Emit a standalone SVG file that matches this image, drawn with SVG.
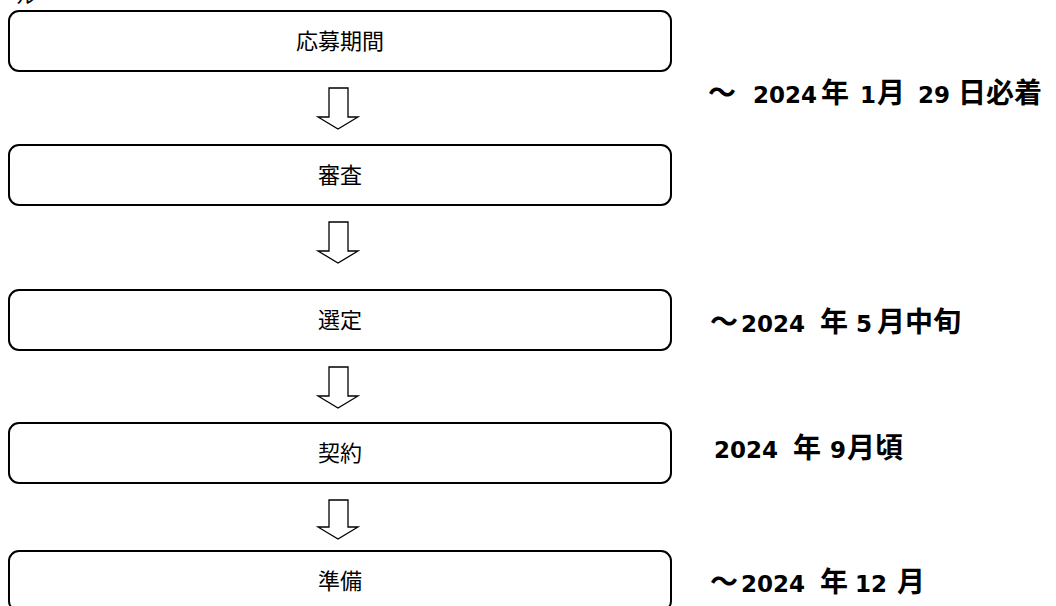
<svg xmlns="http://www.w3.org/2000/svg" width="1056" height="606" viewBox="0 0 1056 606">
<style>
.box{fill:#fff;stroke:#000;stroke-width:2}
.lbl{font-family:"Noto Sans CJK JP","Noto Sans",sans-serif;font-size:22px;fill:#000;text-anchor:middle}
.date{font-family:"Noto Sans CJK JP","Noto Sans",sans-serif;font-size:28px;font-weight:bold;fill:#000}
.num{font-family:"DejaVu Sans","Noto Sans CJK JP",sans-serif;font-size:23px}
.arr{fill:#fff;stroke:#000;stroke-width:1.3;stroke-linejoin:miter}
</style>
<rect width="1056" height="606" fill="#fff"/>
<text x="16" y="4" style="font-family:'Noto Sans CJK JP',sans-serif;font-size:20px">ル</text>
<g id="connectors">
<path class="arr" d="M329,88 H348 V117 H358 L338,129 L318,117 H329 Z"/>
<path class="arr" d="M329,222 H348 V251 H358 L338,263 L318,251 H329 Z"/>
<path class="arr" d="M329,367 H348 V396 H358 L338,408 L318,396 H329 Z"/>
<path class="arr" d="M329,500 H348 V527 H358 L338,539 L318,527 H329 Z"/>
</g>
<g id="n1"><rect class="box" x="9" y="11" width="662" height="60" rx="10"/><text class="lbl" x="340" y="49">応募期間</text></g>
<g id="n2"><rect class="box" x="9" y="145" width="662" height="60" rx="10"/><text class="lbl" x="340" y="183">審査</text></g>
<g id="n3"><rect class="box" x="9" y="290" width="662" height="60" rx="10"/><text class="lbl" x="340" y="328">選定</text></g>
<g id="n4"><rect class="box" x="9" y="423" width="662" height="60" rx="10"/><text class="lbl" x="340" y="461">契約</text></g>
<g id="n5"><rect class="box" x="9" y="551" width="662" height="60" rx="10"/><text class="lbl" x="340" y="589">準備</text></g>
<g id="d1"><text class="date" y="103"><tspan x="708">～</tspan><tspan class="num" x="753">2024</tspan><tspan x="821">年</tspan><tspan class="num" x="860">1</tspan><tspan x="877">月</tspan><tspan class="num" x="918">29</tspan><tspan x="958">日必着</tspan></text></g>
<g id="d3"><text class="date" y="332"><tspan x="710">～</tspan><tspan class="num" x="741">2024</tspan><tspan x="820">年</tspan><tspan class="num" x="856">5</tspan><tspan x="877">月中旬</tspan></text></g>
<g id="d4"><text class="date" y="458"><tspan class="num" x="714">2024</tspan><tspan x="793">年</tspan><tspan class="num" x="830">9</tspan><tspan x="847">月頃</tspan></text></g>
<g id="d5"><text class="date" y="592"><tspan x="710">～</tspan><tspan class="num" x="741">2024</tspan><tspan x="820">年</tspan><tspan class="num" x="855">12</tspan><tspan x="897">月</tspan></text></g>
</svg>
